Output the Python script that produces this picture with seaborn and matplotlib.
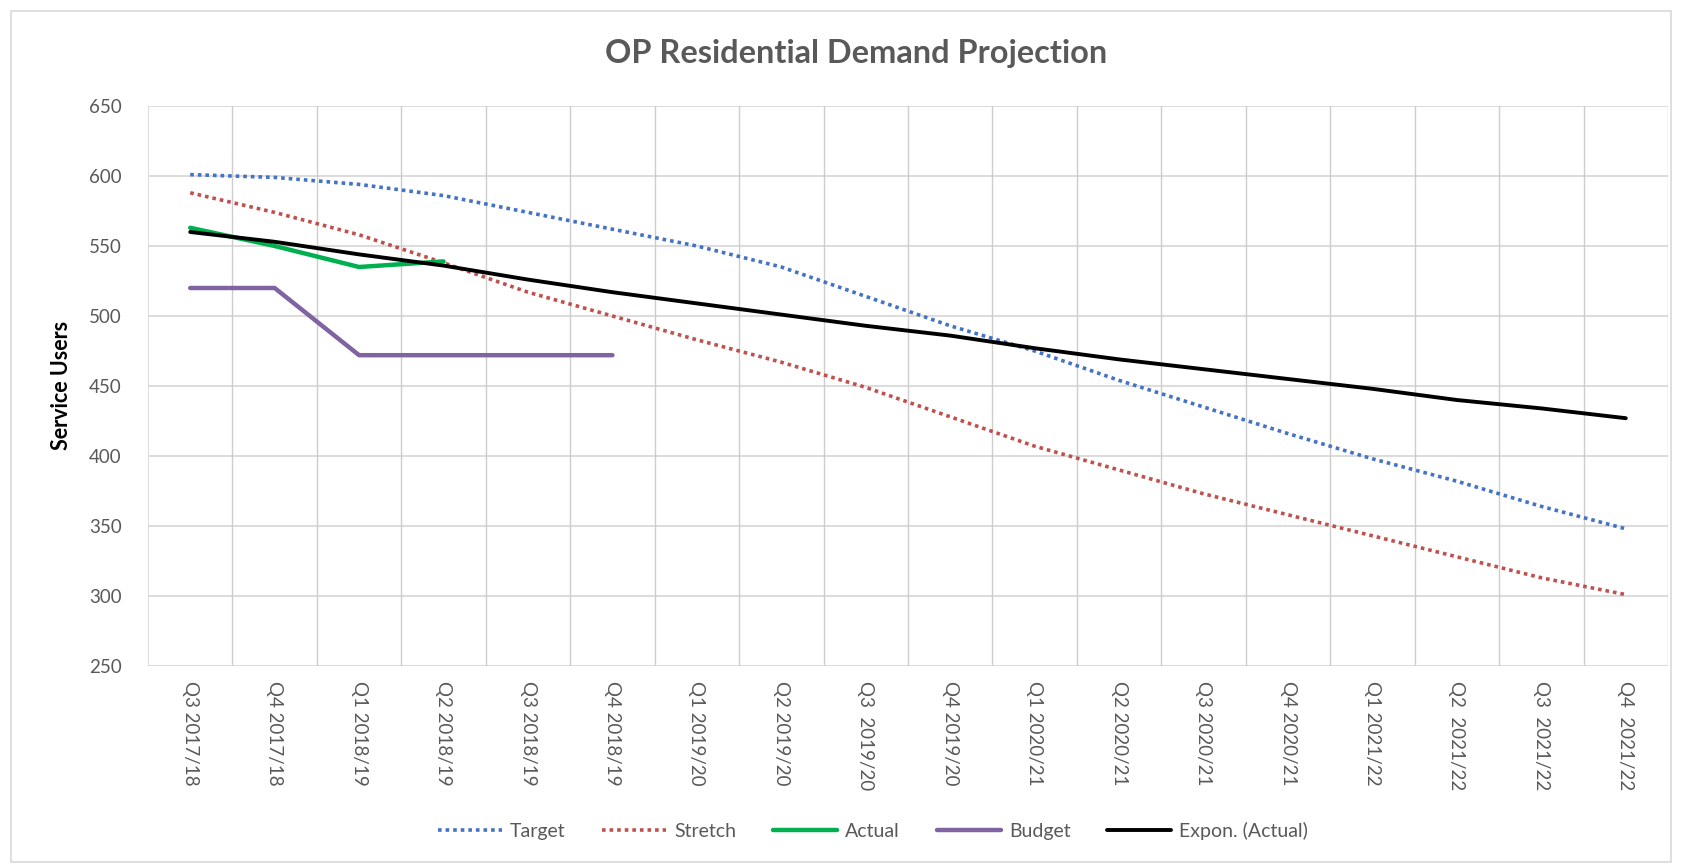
import numpy as np
import pandas as pd
import seaborn as sns
import matplotlib.pyplot as plt
from matplotlib.patches import Rectangle

# quarters on the x axis
quarters = ['Q3 2017/18', 'Q4 2017/18', 'Q1 2018/19', 'Q2 2018/19', 'Q3 2018/19',
            'Q4 2018/19', 'Q1 2019/20', 'Q2 2019/20', 'Q3  2019/20', 'Q4 2019/20',
            'Q1 2020/21', 'Q2 2020/21', 'Q3 2020/21', 'Q4 2020/21', 'Q1 2021/22',
            'Q2  2021/22', 'Q3  2021/22', 'Q4  2021/22']

# series values
target = [601, 599, 594, 586, 574, 562, 550, 535, 514, 493, 475, 454, 435, 416, 398, 382, 364, 348]
stretch = [588, 574, 558, 538, 517, 500, 483, 467, 449, 428, 407, 390, 373, 358, 343, 328, 313, 301]
actual = [563, 550, 535, 539]
budget = [520, 520, 472, 472, 472, 472]
expon_actual = [560, 553, 544, 536, 526, 517, 509, 501, 493, 486, 477, 469, 462, 455, 448, 440, 434, 427]

sns.set_theme(style='white')
plt.rcParams['font.family'] = ['Lato', 'DejaVu Sans']

fig = plt.figure(figsize=(16.82, 8.64), dpi=100)
ax = fig.add_axes([148/1682, 1 - 666/864, 1520/1682, 560/864])

# chart border like the spreadsheet chart area
fig.patches.append(Rectangle((11/1682, 0.002), 1 - 22/1682, 1 - 13/864, transform=fig.transFigure,
                             fill=False, edgecolor='#d9d9d9', linewidth=1.2))

series = [
    ('Target', target, '#4472C4', 2.6, (0, (1, 1.1))),
    ('Stretch', stretch, '#C0504D', 2.6, (0, (1, 1.1))),
    ('Actual', actual, '#00B050', 3.2, '-'),
    ('Budget', budget, '#8064A2', 3.2, '-'),
    ('Expon. (Actual)', expon_actual, '#000000', 2.8, '-'),
]

# establish category order with the full axis first
ax.plot(quarters, [np.nan] * len(quarters))
for name, vals, col, lw, ls in series:
    d = pd.DataFrame({'quarter': quarters[:len(vals)], 'value': vals})
    sns.lineplot(data=d, x='quarter', y='value', ax=ax, color=col, linewidth=lw,
                 linestyle=ls, label=name, sort=False, legend=False)

ax.set_xlim(-0.5, len(quarters) - 0.5)
ax.set_ylim(250, 650)
ax.set_yticks(np.arange(250, 651, 50))

# grid: horizontal light, vertical between categories
for yv in np.arange(250, 651, 50):
    ax.axhline(yv, color='#d9d9d9', linewidth=1.3, zorder=0)
for k in range(len(quarters)):
    ax.axvline(k + 0.5, color='#cdcdcd', linewidth=1.0, zorder=0)
for s in ax.spines.values():
    s.set_visible(False)
ax.axvline(-0.5, color='#d9d9d9', linewidth=1.3, zorder=0)

ax.tick_params(axis='both', length=0, colors='#595959', labelsize=13.5)
ax.tick_params(axis='y', pad=19)
ax.tick_params(axis='x', pad=11)
plt.setp(ax.get_xticklabels(), rotation=-90, va='top', ha='center')
ax.set_xlabel('')
ax.set_ylabel('')

fig.text(61/1682, 1 - 385/864, 'Service Users', rotation=90, ha='center', va='center',
         fontsize=15.5, fontweight='bold', color='black')
fig.text(856/1682, 1 - 54/864, 'OP Residential Demand Projection', ha='center', va='center',
         fontsize=23.4, fontweight='bold', color='#595959')

handles, labels = ax.get_legend_handles_labels()
leg = fig.legend(handles, labels, loc='center', bbox_to_anchor=(0.519, 1 - 831/864), ncol=5,
                 frameon=False, fontsize=14, handlelength=3.3, handletextpad=0.4, columnspacing=1.9)
for t in leg.get_texts():
    t.set_color('#595959')

fig.savefig('out.png', dpi=100)
